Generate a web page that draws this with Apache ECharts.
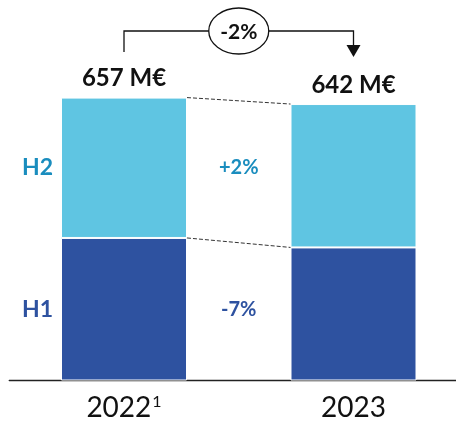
<!DOCTYPE html>
<html><head><meta charset="utf-8">
<script src="https://cdn.jsdelivr.net/npm/echarts@6/dist/echarts.min.js"></script>
<style>html,body{margin:0;padding:0;background:#fff}#c{width:456px;height:425px}</style>
</head><body><div id="c"></div>
<script>
const categories = ['2022', '2023'];
const categorySup = ['1', ''];
const h1 = [331, 309];
const h2 = [326, 333];
const totals = [657, 642];
const totalLabels = ['657 M€', '642 M€'];
const segLabels = ['H1', 'H2'];
const changeH1 = '-7%';
const changeH2 = '+2%';
const changeTotal = '-2%';

const C_LIGHT = '#5FC5E2', C_DARK = '#2E52A0', C_TEAL = '#1A8DBE';
const FONT = 'Lato';
const BAR_W = 126;

const segLabel = (txt, color) => ({show: true, position: 'left', distance: 8,
  formatter: txt, fontFamily: FONT, fontWeight: 'bold', fontSize: 23, color: color});

const chart = echarts.init(document.getElementById('c'), null, {renderer: 'canvas'});
chart.setOption({
  animation: false,
  grid: {left: 9.25, width: 459, top: 36, bottom: 44.5, outerBoundsMode: 'none', containLabel: false},
  xAxis: {
    type: 'category', data: categories,
    axisLine: {lineStyle: {color: '#222', width: 1.3}},
    axisTick: {show: false},
    axisLabel: {
      margin: 13, fontFamily: FONT, fontSize: 28, color: '#111',
      formatter: (v, i) => categorySup[i] ? v + '{sup|' + categorySup[i] + '}' : v,
      rich: {sup: {fontFamily: FONT, fontSize: 16, color: '#111', verticalAlign: 'bottom', padding: [0, 0, 13, 1]}}
    }
  },
  yAxis: {type: 'value', min: 0, max: 800, show: false},
  series: [
    {
      type: 'bar', stack: 't', barWidth: BAR_W,
      itemStyle: {color: C_DARK, borderColor: '#fff', borderWidth: 1},
      data: h1.map((v, i) => i === 0 ? {value: v, label: segLabel(segLabels[0], C_DARK)} : v)
    },
    {
      type: 'bar', stack: 't', barWidth: BAR_W,
      itemStyle: {color: C_LIGHT, borderColor: '#fff', borderWidth: 1},
      data: h2.map((v, i) => i === 0 ? {value: v, label: segLabel(segLabels[1], C_TEAL)} : v)
    },
    {
      type: 'custom', data: [0], z: 5, silent: true,
      renderItem: function (params, api) {
        const t0 = api.coord([0, totals[0]]), t1 = api.coord([1, totals[1]]);
        const m0 = api.coord([0, h1[0]]), m1 = api.coord([1, h1[1]]);
        const hw = BAR_W / 2;
        const midX = (t0[0] + t1[0]) / 2;
        const yH2 = api.coord([0, h1[0] + h2[0] / 2])[1];
        const yH1 = api.coord([0, h1[0] / 2])[1];
        const dash = {stroke: '#333', lineWidth: 1, lineDash: [4, 2], fill: null};
        const ly = 31;
        const totFont = 'bold 24px ' + FONT;
        return {
          type: 'group', children: [
            {type: 'line', shape: {x1: t0[0] + hw, y1: t0[1], x2: t1[0] - hw, y2: t1[1]}, style: dash},
            {type: 'line', shape: {x1: m0[0] + hw, y1: m0[1], x2: m1[0] - hw, y2: m1[1]}, style: dash},
            {type: 'text', style: {text: totalLabels[0], x: t0[0], y: t0[1] - 19, align: 'center', verticalAlign: 'middle',
              font: totFont, fill: '#111'}},
            {type: 'text', style: {text: totalLabels[1], x: t1[0], y: t1[1] - 19, align: 'center', verticalAlign: 'middle',
              font: totFont, fill: '#111'}},
            {type: 'text', style: {text: changeH2, x: midX, y: yH2, align: 'center', verticalAlign: 'middle',
              font: 'bold 20px ' + FONT, fill: C_TEAL}},
            {type: 'text', style: {text: changeH1, x: midX, y: yH1, align: 'center', verticalAlign: 'middle',
              font: 'bold 20px ' + FONT, fill: C_DARK}},
            {type: 'polyline', shape: {points: [[t0[0], 52], [t0[0], ly], [t1[0], ly], [t1[0], 46]]},
              style: {stroke: '#111', lineWidth: 1.3, fill: null}},
            {type: 'polygon', shape: {points: [[t1[0] - 7, 45], [t1[0] + 7, 45], [t1[0], 57]]},
              style: {fill: '#111'}},
            {type: 'ellipse', shape: {cx: midX, cy: ly, rx: 30, ry: 23},
              style: {fill: '#fff', stroke: '#111', lineWidth: 1.3}},
            {type: 'text', style: {text: changeTotal, x: midX, y: ly + 1, align: 'center', verticalAlign: 'middle',
              font: 'bold 21px ' + FONT, fill: '#111'}}
          ]
        };
      }
    }
  ]
});
</script></body></html>
